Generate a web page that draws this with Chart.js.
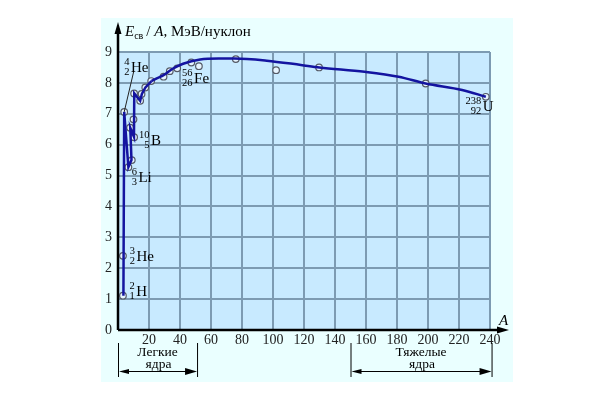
<!DOCTYPE html>
<html>
<head>
<meta charset="utf-8">
<script src="https://cdn.jsdelivr.net/npm/chart.js@4.4.1/dist/chart.umd.min.js"></script>
<style>
  html, body { margin: 0; padding: 0; background: #ffffff; }
  #chart { display: block; }
</style>
</head>
<body>
<canvas id="chart" width="605" height="400"></canvas>
<script>
// measured circles (mass number A, binding energy per nucleon)
const pointA = [3.2, 3.2, 4.0, 6.7, 8.9, 7.8, 10.4, 10.0, 10.4, 14.3, 15.2, 17.6, 21.4, 29.4, 33.4, 38.2, 47.3, 52.2, 76, 102, 129.7, 198.5, 237.3];
const pointE = [1.11, 2.4, 7.06, 5.27, 5.5, 6.55, 6.24, 6.82, 7.66, 7.42, 7.64, 7.85, 8.06, 8.2, 8.38, 8.47, 8.66, 8.54, 8.77, 8.41, 8.5, 7.98, 7.55];

// the jagged light-nuclei part of the blue curve
const jagA = [3.5, 4.0, 6.7, 8.7, 7.9, 10.3, 10.5, 14.3, 15.4, 17.7, 21.6];
const jagE = [1.11, 7.06, 5.27, 5.5, 6.55, 6.25, 7.66, 7.42, 7.64, 7.85, 8.06];

// the smooth part of the curve
const smoothA = [21.6, 25, 29.4, 35, 42, 53, 65, 75, 96, 118, 130, 159, 181, 198.5, 222, 237.3];
const smoothE = [8.06, 8.15, 8.25, 8.45, 8.62, 8.76, 8.79, 8.79, 8.72, 8.58, 8.5, 8.36, 8.2, 7.98, 7.77, 7.55];

// leader line from the He-4 label
const leaderA = [10.1, 4.0];
const leaderE = [8.36, 7.06];

const xTicks = [20, 40, 60, 80, 100, 120, 140, 160, 180, 200, 220, 240];
const yTicks = [0, 1, 2, 3, 4, 5, 6, 7, 8, 9];

// nuclide labels: mass, charge, symbol, where the symbol starts (A, E)
const nuclides = [
  { mass: "4", z: "2", sym: "He", a: 8.4, e: 8.52 },
  { mass: "10", z: "5", sym: "B", a: 21.3, e: 6.15 },
  { mass: "6", z: "3", sym: "Li", a: 13.2, e: 4.94 },
  { mass: "3", z: "2", sym: "He", a: 11.9, e: 2.39 },
  { mass: "2", z: "1", sym: "H", a: 11.7, e: 1.26 },
  { mass: "56", z: "26", sym: "Fe", a: 49.1, e: 8.15 },
  { mass: "238", z: "92", sym: "U", a: 235.3, e: 7.25 }
];

const ranges = [
  { from: 0, to: 51, top: "Легкие", bottom: "ядра" },
  { from: 150, to: 241, top: "Тяжелые", bottom: "ядра" }
];

const SERIF = '"Liberation Serif", "DejaVu Serif", serif';

function toXY(xs, ys) {
  return xs.map((x, i) => ({ x, y: ys[i] }));
}

function arrowHead(ctx, x, y, dir) {
  // dir: "up", "right", "left"
  ctx.beginPath();
  if (dir === "up") {
    ctx.moveTo(x, y); ctx.lineTo(x - 3.5, y + 12); ctx.lineTo(x + 3.5, y + 12);
  } else if (dir === "right") {
    ctx.moveTo(x, y); ctx.lineTo(x - 12, y - 3.5); ctx.lineTo(x - 12, y + 3.5);
  } else {
    ctx.moveTo(x, y); ctx.lineTo(x + 10, y - 2.5); ctx.lineTo(x + 10, y + 2.5);
  }
  ctx.closePath();
  ctx.fill();
}

const decorPlugin = {
  id: "decor",
  beforeDraw(chart) {
    const { ctx, chartArea: ca } = chart;
    ctx.save();
    ctx.fillStyle = "#eaffff";
    ctx.fillRect(101, 18, 412, 364);
    ctx.fillStyle = "#c8eaff";
    ctx.fillRect(ca.left, ca.top, ca.right - ca.left, ca.bottom - ca.top);
    ctx.restore();
  },
  afterDraw(chart) {
    const { ctx, chartArea: ca } = chart;
    const xs = chart.scales.x, ys = chart.scales.y;
    ctx.save();

    // axes with arrows
    ctx.strokeStyle = "#000";
    ctx.fillStyle = "#000";
    ctx.lineWidth = 2.5;
    ctx.beginPath();
    ctx.moveTo(ca.left, ca.bottom);
    ctx.lineTo(ca.left, 30);
    ctx.moveTo(ca.left, ca.bottom);
    ctx.lineTo(500, ca.bottom);
    ctx.stroke();
    arrowHead(ctx, ca.left, 22, "up");
    arrowHead(ctx, 509, ca.bottom, "right");

    // y axis title: E_св / A, МэВ/нуклон
    ctx.textBaseline = "alphabetic";
    ctx.textAlign = "left";
    let x = 125;
    const base = 36;
    ctx.font = "italic 15px " + SERIF;
    ctx.fillText("E", x, base);
    x += ctx.measureText("E").width;
    ctx.font = "10px " + SERIF;
    ctx.fillText("св", x, base + 3);
    x += ctx.measureText("св").width + 3;
    ctx.font = "15px " + SERIF;
    ctx.fillText("/ ", x, base);
    x += ctx.measureText("/ ").width;
    ctx.font = "italic 15px " + SERIF;
    ctx.fillText("A", x, base);
    x += ctx.measureText("A").width;
    ctx.font = "15px " + SERIF;
    ctx.fillText(", МэВ/нуклон", x, base);

    // x axis title
    ctx.font = "italic 15px " + SERIF;
    ctx.fillText("A", 499, 325);

    // nuclide labels
    nuclides.forEach(n => {
      const px = xs.getPixelForValue(n.a);
      const py = ys.getPixelForValue(n.e);
      ctx.font = "15px " + SERIF;
      ctx.textAlign = "left";
      ctx.textBaseline = "middle";
      ctx.fillText(n.sym, px, py + 1);
      ctx.font = "10.5px " + SERIF;
      ctx.textAlign = "right";
      ctx.fillText(n.mass, px - 1.5, py - 5);
      ctx.fillText(n.z, px - 1.5, py + 5);
    });

    // light / heavy nuclei brackets
    ctx.lineWidth = 1;
    ranges.forEach(r => {
      const x1 = xs.getPixelForValue(r.from);
      const x2 = xs.getPixelForValue(r.to);
      ctx.beginPath();
      ctx.moveTo(x1 + 0.5, 343); ctx.lineTo(x1 + 0.5, 377);
      ctx.moveTo(x2 + 0.5, 343); ctx.lineTo(x2 + 0.5, 377);
      ctx.moveTo(x1 + 6, 371.5); ctx.lineTo(x2 - 6, 371.5);
      ctx.stroke();
      arrowHead(ctx, x1 + 1, 371.5, "left");
      arrowHead(ctx, x2, 371.5, "right");
      const cx = (x1 + x2) / 2;
      ctx.font = "13.5px " + SERIF;
      ctx.textAlign = "center";
      ctx.textBaseline = "middle";
      ctx.fillText(r.top, cx, 352.5);
      ctx.fillText(r.bottom, cx + 1, 364.5);
    });

    ctx.restore();
  }
};

new Chart(document.getElementById("chart"), {
  type: "scatter",
  data: {
    datasets: [
      {
        data: toXY(leaderA, leaderE),
        showLine: true,
        borderColor: "#222",
        borderWidth: 1,
        pointRadius: 0
      },
      {
        data: toXY(jagA, jagE),
        showLine: true,
        borderColor: "#1414a0",
        borderWidth: 2.5,
        pointRadius: 0,
        tension: 0
      },
      {
        data: toXY(smoothA, smoothE),
        showLine: true,
        borderColor: "#1414a0",
        borderWidth: 2.5,
        pointRadius: 0,
        tension: 0.4,
        cubicInterpolationMode: "monotone"
      },
      {
        data: toXY(pointA, pointE),
        pointRadius: 3.3,
        pointBorderWidth: 1.2,
        pointBorderColor: "#555a66",
        pointBackgroundColor: "#e6f4ff"
      }
    ]
  },
  options: {
    responsive: false,
    animation: false,
    layout: { padding: { left: 0, top: 52, right: 115, bottom: 0 } },
    plugins: {
      legend: { display: false },
      tooltip: { enabled: false }
    },
    scales: {
      x: {
        type: "linear",
        min: 0,
        max: 240,
        afterFit: s => { s.height = 70; },
        afterBuildTicks: s => { s.ticks = xTicks.concat([0]).map(v => ({ value: v })); },
        grid: { color: "#7d9bb2", lineWidth: 2, drawTicks: false },
        border: { display: false },
        ticks: {
          padding: 2,
          color: "#222",
          font: { family: SERIF, size: 14 },
          callback: v => (v === 0 ? "" : v)
        }
      },
      y: {
        type: "linear",
        min: 0,
        max: 9,
        afterFit: s => { s.width = 118; },
        afterBuildTicks: s => { s.ticks = yTicks.map(v => ({ value: v })); },
        grid: { color: "#7d9bb2", lineWidth: 2, drawTicks: false },
        border: { display: false },
        ticks: {
          padding: 6,
          color: "#222",
          font: { family: SERIF, size: 14 }
        }
      }
    }
  },
  plugins: [decorPlugin]
});
</script>
</body>
</html>
